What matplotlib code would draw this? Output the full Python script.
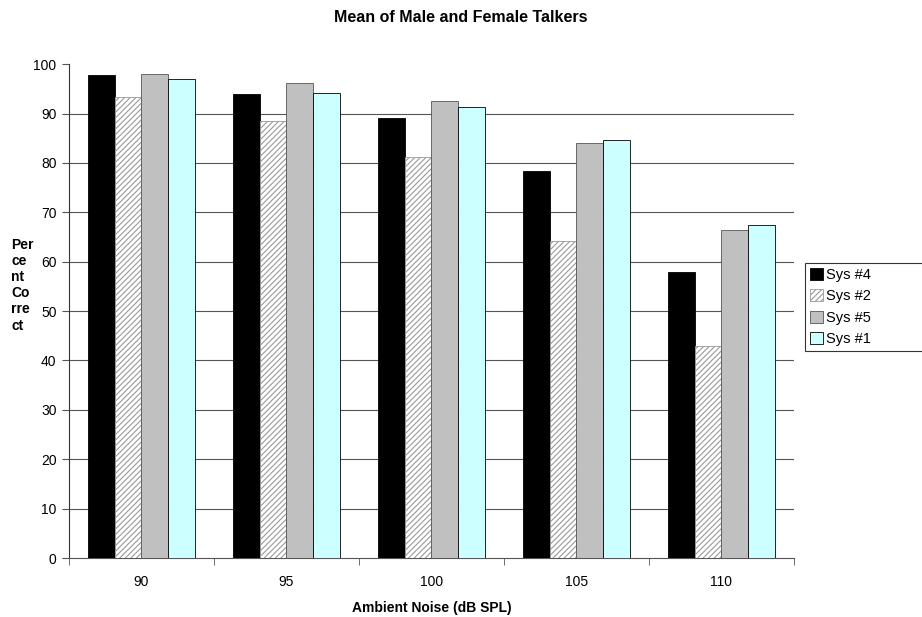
import matplotlib as mpl
mpl.use('Agg')
import matplotlib.pyplot as plt
import numpy as np

plt.rcParams['font.family'] = ['Liberation Sans', 'DejaVu Sans']
plt.rcParams['hatch.linewidth'] = 0.8

noise = ["90", "95", "100", "105", "110"]
sys4 = [97.8, 93.9, 89.0, 78.3, 58.0]
sys2 = [93.3, 88.5, 81.3, 64.1, 43.0]
sys5 = [98.0, 96.1, 92.5, 84.0, 66.4]
sys1 = [97.0, 94.2, 91.4, 84.6, 67.4]

fig = plt.figure(figsize=(9.22, 6.17), dpi=100)
ax = fig.add_axes([0.0748, 0.0956, 0.7863, 0.8004])

x = np.arange(len(noise))
w = 0.183
ax.bar(x - 1.5*w, sys4, w, color='black', edgecolor='black', linewidth=0.6, label='Sys #4', zorder=3)
ax.bar(x - 0.5*w, sys2, w, color='white', edgecolor='#999999', hatch='//////', linewidth=0.6, label='Sys #2', zorder=3)
ax.bar(x + 0.5*w, sys5, w, color='#c0c0c0', edgecolor='#555555', linewidth=0.6, label='Sys #5', zorder=3)
ax.bar(x + 1.5*w, sys1, w, color='#ccffff', edgecolor='black', linewidth=0.6, label='Sys #1', zorder=3)

ax.set_xlim(-0.5, 4.5)
ax.set_ylim(0, 100)
ax.set_yticks(range(0, 101, 10))
for v in range(10, 100, 10):
    ax.axhline(v, color='#555555', linewidth=0.8, zorder=1)

ax.set_xticks(x)
ax.set_xticklabels(noise)
ax.set_xticks(np.arange(-0.5, 5, 1), minor=True)
ax.tick_params(axis='x', which='major', length=0, pad=12, labelsize=10)
ax.tick_params(axis='x', which='minor', length=5, direction='out', color='#555555')
ax.tick_params(axis='y', length=5, direction='out', labelsize=10, color='#555555', pad=4)

ax.spines['top'].set_visible(False)
ax.spines['right'].set_visible(False)
ax.spines['left'].set_color('#333333')
ax.spines['bottom'].set_color('#555555')

ax.set_xlabel('Ambient Noise (dB SPL)', fontsize=10, fontweight='bold', labelpad=9)
fig.text(0.012, 0.538, 'Per\nce\nnt\nCo\nrre\nct', fontsize=10, fontweight='bold',
         ha='left', va='center', linespacing=1.2)
fig.text(0.5, 0.971, 'Mean of Male and Female Talkers', fontsize=11.5, fontweight='bold',
         ha='center', va='center')

leg = ax.legend(loc='center left', bbox_to_anchor=(0.873, 0.43, 0.14, 0.145), bbox_transform=fig.transFigure,
                mode='expand', fontsize=10.5, frameon=True, fancybox=False, edgecolor='black',
                handlelength=0.9, handleheight=0.9, handletextpad=0.2, labelspacing=0.5,
                borderpad=0.35, borderaxespad=0)
leg.get_frame().set_linewidth(0.8)

fig.savefig('out.png', dpi=100)
